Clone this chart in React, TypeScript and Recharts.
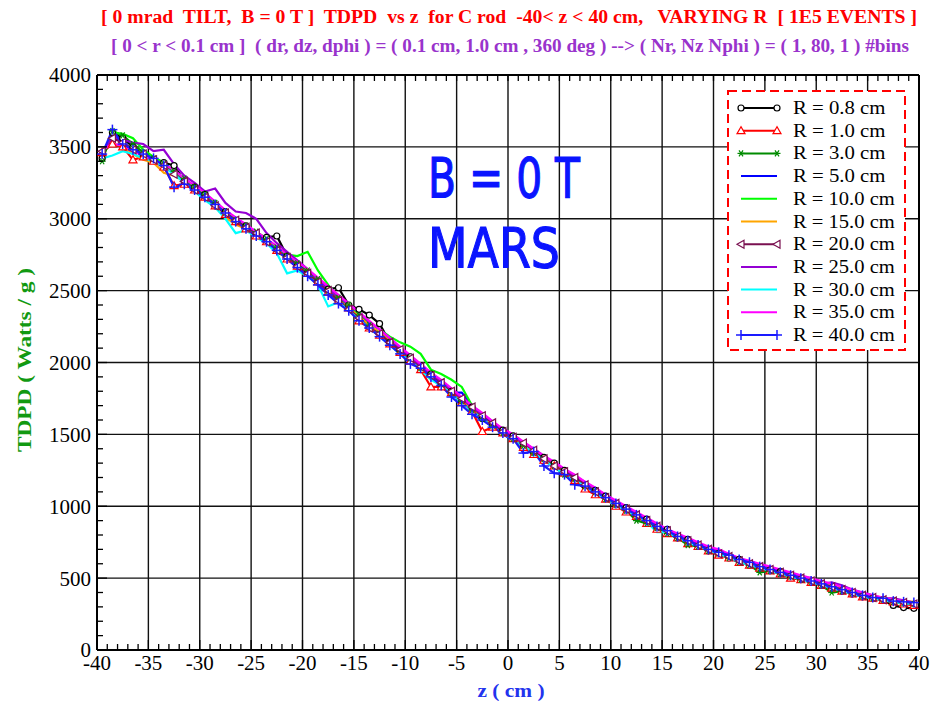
import { LineChart, Line, XAxis, YAxis, CartesianGrid } from 'recharts'

// bin centres along z (cm), 80 bins of 1 cm
const zBins = [
  -39.5, -38.5, -37.5, -36.5, -35.5, -34.5, -33.5, -32.5, -31.5, -30.5,
  -29.5, -28.5, -27.5, -26.5, -25.5, -24.5, -23.5, -22.5, -21.5, -20.5,
  -19.5, -18.5, -17.5, -16.5, -15.5, -14.5, -13.5, -12.5, -11.5, -10.5,
  -9.5, -8.5, -7.5, -6.5, -5.5, -4.5, -3.5, -2.5, -1.5, -0.5,
  0.5, 1.5, 2.5, 3.5, 4.5, 5.5, 6.5, 7.5, 8.5, 9.5,
  10.5, 11.5, 12.5, 13.5, 14.5, 15.5, 16.5, 17.5, 18.5, 19.5,
  20.5, 21.5, 22.5, 23.5, 24.5, 25.5, 26.5, 27.5, 28.5, 29.5,
  30.5, 31.5, 32.5, 33.5, 34.5, 35.5, 36.5, 37.5, 38.5, 39.5,
]

// TDPD (Watts / g) per R
const r08 = [
  3420, 3600, 3560, 3500, 3440, 3410, 3390, 3370, 3260, 3220,
  3170, 3090, 3050, 2980, 2950, 2890, 2870, 2880, 2740, 2670,
  2620, 2560, 2510, 2520, 2400, 2370, 2330, 2270, 2140, 2080,
  2040, 1960, 1920, 1840, 1800, 1730, 1690, 1610, 1560, 1530,
  1490, 1420, 1370, 1340, 1300, 1250, 1190, 1140, 1110, 1070,
  1010, 990, 930, 910, 850, 840, 780, 770, 720, 690,
  670, 640, 630, 590, 570, 555, 545, 510, 490, 470,
  450, 430, 410, 390, 370, 360, 345, 310, 295, 290,
]
const r10 = [
  3460, 3520, 3500, 3410, 3430, 3400, 3360, 3230, 3240, 3200,
  3150, 3090, 3030, 2980, 2930, 2880, 2840, 2780, 2720, 2670,
  2620, 2560, 2490, 2430, 2380, 2290, 2240, 2190, 2130, 2070,
  2010, 1950, 1830, 1830, 1790, 1720, 1660, 1520, 1550, 1510,
  1470, 1410, 1360, 1320, 1280, 1230, 1180, 1120, 1080, 1050,
  1000, 960, 930, 880, 840, 810, 780, 740, 720, 690,
  660, 640, 610, 590, 570, 550, 530, 500, 490, 470,
  450, 430, 410, 390, 370, 360, 345, 335, 320, 310,
]
const r30 = [
  3400, 3610, 3580, 3520, 3460, 3420, 3380, 3330, 3280, 3220,
  3170, 3110, 3040, 2990, 2950, 2910, 2860, 2800, 2740, 2690,
  2640, 2580, 2500, 2450, 2400, 2330, 2260, 2200, 2140, 2080,
  2030, 1960, 1910, 1850, 1790, 1730, 1670, 1610, 1560, 1510,
  1470, 1420, 1370, 1330, 1280, 1220, 1190, 1140, 1100, 1050,
  1010, 970, 900, 880, 850, 810, 780, 730, 720, 690,
  670, 640, 610, 590, 540, 550, 530, 510, 490, 475,
  450, 400, 410, 395, 375, 360, 350, 335, 325, 320,
]
const r50 = [
  3450, 3570, 3530, 3480, 3440, 3420, 3370, 3320, 3260, 3210,
  3150, 3100, 3030, 2980, 2930, 2880, 2840, 2780, 2720, 2660,
  2610, 2550, 2480, 2430, 2370, 2320, 2260, 2200, 2140, 2070,
  2010, 1950, 1900, 1830, 1790, 1790, 1700, 1620, 1560, 1500,
  1460, 1420, 1370, 1320, 1270, 1230, 1190, 1150, 1110, 1060,
  1020, 980, 940, 900, 860, 820, 790, 760, 730, 700,
  680, 650, 620, 600, 580, 560, 540, 520, 500, 480,
  460, 440, 420, 400, 380, 365, 350, 340, 330, 325,
]
const r100 = [
  3440, 3600, 3590, 3560, 3480, 3430, 3390, 3330, 3280, 3220,
  3180, 3110, 3050, 3000, 2950, 2910, 2860, 2800, 2750, 2740,
  2770, 2640, 2540, 2460, 2400, 2340, 2280, 2230, 2180, 2140,
  2110, 2060, 1950, 1920, 1880, 1830, 1700, 1630, 1580, 1530,
  1480, 1440, 1390, 1340, 1290, 1240, 1200, 1160, 1120, 1070,
  1030, 990, 950, 910, 870, 830, 790, 760, 730, 710,
  690, 650, 620, 600, 580, 560, 540, 520, 500, 480,
  460, 440, 420, 400, 380, 370, 355, 345, 335, 330,
]
const r150 = [
  3480, 3520, 3510, 3450, 3410, 3390, 3320, 3300, 3260, 3190,
  3140, 3080, 3010, 2960, 2930, 2880, 2840, 2780, 2720, 2670,
  2620, 2560, 2500, 2430, 2380, 2320, 2260, 2210, 2150, 2090,
  2030, 1970, 1910, 1850, 1800, 1740, 1680, 1630, 1570, 1520,
  1480, 1430, 1380, 1330, 1290, 1240, 1200, 1150, 1110, 1070,
  1030, 990, 950, 910, 870, 840, 800, 770, 740, 710,
  690, 660, 630, 610, 590, 570, 550, 530, 510, 490,
  470, 450, 430, 410, 390, 375, 365, 350, 340, 335,
]
const r200 = [
  3470, 3560, 3530, 3480, 3450, 3410, 3370, 3310, 3260, 3200,
  3150, 3090, 3040, 2990, 2940, 2900, 2840, 2780, 2730, 2670,
  2620, 2560, 2500, 2430, 2370, 2310, 2240, 2200, 2140, 2090,
  2030, 1970, 1910, 1860, 1800, 1750, 1690, 1630, 1580, 1520,
  1480, 1440, 1390, 1330, 1280, 1240, 1200, 1150, 1100, 1060,
  1020, 980, 940, 900, 860, 830, 790, 760, 730, 700,
  670, 650, 620, 600, 580, 560, 540, 520, 500, 480,
  460, 440, 420, 400, 380, 365, 350, 340, 330, 320,
]
const r250 = [
  3460, 3570, 3550, 3530, 3520, 3470, 3480, 3380, 3300, 3250,
  3190, 3210, 3110, 3050, 3040, 3000, 2900, 2830, 2770, 2710,
  2650, 2580, 2510, 2460, 2400, 2350, 2280, 2230, 2170, 2100,
  2040, 1980, 1920, 1870, 1810, 1750, 1690, 1640, 1590, 1530,
  1490, 1440, 1400, 1350, 1300, 1260, 1210, 1170, 1120, 1080,
  1030, 990, 950, 910, 870, 840, 800, 770, 740, 710,
  690, 660, 630, 610, 590, 570, 550, 530, 510, 500,
  460, 470, 450, 420, 400, 380, 360, 360, 345, 330,
]
const r300 = [
  3420, 3440, 3470, 3450, 3420, 3400, 3360, 3310, 3250, 3190,
  3130, 3080, 3000, 2900, 2920, 2870, 2830, 2760, 2620, 2640,
  2600, 2540, 2390, 2420, 2360, 2300, 2240, 2180, 2120, 2060,
  2010, 1950, 1880, 1840, 1780, 1720, 1660, 1610, 1550, 1510,
  1460, 1420, 1370, 1320, 1270, 1220, 1180, 1140, 1090, 1050,
  1000, 970, 930, 890, 820, 820, 780, 750, 720, 690,
  670, 640, 610, 590, 570, 550, 530, 510, 490, 470,
  450, 430, 410, 390, 370, 360, 345, 335, 325, 320,
]
const r350 = [
  3480, 3520, 3510, 3470, 3440, 3410, 3380, 3340, 3280, 3230,
  3180, 3120, 3060, 3010, 2960, 2910, 2860, 2810, 2750, 2700,
  2650, 2590, 2530, 2470, 2410, 2350, 2290, 2230, 2170, 2110,
  2050, 1990, 1930, 1880, 1820, 1760, 1700, 1650, 1590, 1540,
  1500, 1450, 1400, 1350, 1310, 1260, 1220, 1170, 1130, 1080,
  1040, 1000, 960, 920, 880, 840, 810, 780, 750, 720,
  700, 670, 640, 620, 600, 580, 560, 540, 520, 500,
  480, 460, 440, 420, 400, 380, 365, 350, 340, 330,
]
const r400 = [
  3450, 3620, 3520, 3480, 3450, 3420, 3370, 3220, 3240, 3200,
  3150, 3100, 3040, 2980, 2930, 2880, 2840, 2780, 2720, 2660,
  2600, 2540, 2470, 2410, 2360, 2290, 2240, 2180, 2120, 2060,
  1990, 1960, 1900, 1840, 1760, 1700, 1640, 1600, 1550, 1510,
  1470, 1370, 1380, 1280, 1230, 1220, 1150, 1140, 1100, 1060,
  1020, 980, 940, 900, 860, 830, 790, 760, 730, 700,
  680, 660, 630, 610, 580, 560, 540, 520, 500, 480,
  460, 440, 420, 400, 380, 365, 360, 340, 335, 330,
]

// every 1 cm / every 100 W/g; labels only on multiples of 5 / 500
const xTicks = Array.from({ length: 81 }, (_, i) => i - 40)
const yTicks = Array.from({ length: 41 }, (_, i) => i * 100)
const xGrid = [-40, -35, -30, -25, -20, -15, -10, -5, 0, 5, 10, 15, 20, 25, 30, 35, 40]
const yGrid = [0, 500, 1000, 1500, 2000, 2500, 3000, 3500, 4000]

type Marker = 'none' | 'circle' | 'triangle' | 'star' | 'left' | 'plus'

const series: { key: string; label: string; color: string; marker: Marker; values: number[] }[] = [
  { key: 'r08', label: 'R = 0.8 cm', color: '#000000', marker: 'circle', values: r08 },
  { key: 'r10', label: 'R = 1.0 cm', color: '#ff0000', marker: 'triangle', values: r10 },
  { key: 'r30', label: 'R = 3.0 cm', color: '#008b00', marker: 'star', values: r30 },
  { key: 'r50', label: 'R = 5.0 cm', color: '#0000ff', marker: 'none', values: r50 },
  { key: 'r100', label: 'R = 10.0 cm', color: '#00ff00', marker: 'none', values: r100 },
  { key: 'r150', label: 'R = 15.0 cm', color: '#ffa500', marker: 'none', values: r150 },
  { key: 'r200', label: 'R = 20.0 cm', color: '#7a1050', marker: 'left', values: r200 },
  { key: 'r250', label: 'R = 25.0 cm', color: '#9400d3', marker: 'none', values: r250 },
  { key: 'r300', label: 'R = 30.0 cm', color: '#00ffff', marker: 'none', values: r300 },
  { key: 'r350', label: 'R = 35.0 cm', color: '#ff00ff', marker: 'none', values: r350 },
  { key: 'r400', label: 'R = 40.0 cm', color: '#1a1aff', marker: 'plus', values: r400 },
]

const data = zBins.map((z, i) => {
  const row: Record<string, number> = { z }
  series.forEach(s => { row[s.key] = s.values[i] })
  return row
})

function MarkerShape({ kind, cx, cy, color }: { kind: Marker; cx: number; cy: number; color: string }) {
  if (kind === 'circle') {
    return <circle cx={cx} cy={cy} r={3} fill="#fff" stroke={color} strokeWidth={1.2} />
  }
  if (kind === 'triangle') {
    return (
      <polygon
        points={`${cx},${cy - 4} ${cx - 4},${cy + 3} ${cx + 4},${cy + 3}`}
        fill="#fff" stroke={color} strokeWidth={1.2}
      />
    )
  }
  if (kind === 'left') {
    return (
      <polygon
        points={`${cx - 4},${cy} ${cx + 3},${cy - 4} ${cx + 3},${cy + 4}`}
        fill="#fff" stroke={color} strokeWidth={1.2}
      />
    )
  }
  if (kind === 'star') {
    return (
      <g stroke={color} strokeWidth={1.2}>
        <line x1={cx - 3.5} y1={cy} x2={cx + 3.5} y2={cy} />
        <line x1={cx - 2} y1={cy - 3} x2={cx + 2} y2={cy + 3} />
        <line x1={cx - 2} y1={cy + 3} x2={cx + 2} y2={cy - 3} />
      </g>
    )
  }
  if (kind === 'plus') {
    return (
      <g stroke={color} strokeWidth={1.5}>
        <line x1={cx - 5} y1={cy} x2={cx + 5} y2={cy} />
        <line x1={cx} y1={cy - 5} x2={cx} y2={cy + 5} />
      </g>
    )
  }
  return null
}

const serif = '"Liberation Serif", "Times New Roman", serif'
const tickStroke = { stroke: '#000', strokeWidth: 1.3 }

// ticks point into the plot; only the bottom and left axes carry numbers
function BottomTick({ x, y, payload }: any) {
  const major = payload.value % 5 === 0
  return (
    <g>
      <line x1={x} y1={y} x2={x} y2={y - (major ? 10 : 6)} {...tickStroke} />
      {major && (
        <text x={x} y={y + 5} dy="0.71em" textAnchor="middle" fontFamily={serif} fontSize={21} fill="#000">
          {payload.value}
        </text>
      )}
    </g>
  )
}

function LeftTick({ x, y, payload }: any) {
  const major = payload.value % 500 === 0
  return (
    <g>
      <line x1={x} y1={y} x2={x + (major ? 10 : 6)} y2={y} {...tickStroke} />
      {major && (
        <text x={x - 6} y={y} dy="0.355em" textAnchor="end" fontFamily={serif} fontSize={21} fill="#000">
          {payload.value}
        </text>
      )}
    </g>
  )
}

function TopTick({ x, y }: any) {
  return <line x1={x} y1={y} x2={x} y2={y + 6} {...tickStroke} />
}

function RightTick({ x, y }: any) {
  return <line x1={x} y1={y} x2={x - 6} y2={y} {...tickStroke} />
}

function Overlay() {
  const legendTop = 108
  const legendStep = 22.7
  return (
    <svg width={932} height={703} style={{ position: 'absolute', left: 0, top: 0, pointerEvents: 'none' }}>
      <text x={509} y={23} textAnchor="middle" fontFamily={serif} fontWeight="bold" fontSize={18}
        fill="#ff0000" textLength={816} lengthAdjust="spacingAndGlyphs" style={{ whiteSpace: 'pre' }}>
        {'[ 0 mrad  TILT,  B = 0 T ]  TDPD  vs z  for C rod  -40< z < 40 cm,   VARYING R  [ 1E5 EVENTS ]'}
      </text>
      <text x={510} y={52} textAnchor="middle" fontFamily={serif} fontWeight="bold" fontSize={18}
        fill="#9933cc" textLength={798} lengthAdjust="spacingAndGlyphs" style={{ whiteSpace: 'pre' }}>
        {'[ 0 < r < 0.1 cm ]  ( dr, dz, dphi ) = ( 0.1 cm, 1.0 cm , 360 deg ) --> ( Nr, Nz Nphi ) = ( 1, 80, 1 ) #bins'}
      </text>
      <text x={0} y={0} transform="translate(31,360) rotate(-90)" textAnchor="middle" fontFamily={serif}
        fontWeight="bold" fontSize={18} fill="#119911" textLength={184} lengthAdjust="spacingAndGlyphs">
        TDPD ( Watts / g )
      </text>
      <text x={511} y={697} textAnchor="middle" fontFamily={serif} fontWeight="bold" fontSize={19}
        fill="#2233ee" textLength={67} lengthAdjust="spacingAndGlyphs">
        z ( cm )
      </text>
      <text x={428} y={197} fontFamily='"DejaVu Sans", sans-serif' fontSize={55} fill="#0a14ff"
        stroke="#0a14ff" strokeWidth={1.2} textLength={152} lengthAdjust="spacingAndGlyphs">
        B = 0 T
      </text>
      <text x={428} y={267} fontFamily='"DejaVu Sans", sans-serif' fontSize={55} fill="#0a14ff"
        stroke="#0a14ff" strokeWidth={1.2} textLength={132} lengthAdjust="spacingAndGlyphs">
        MARS
      </text>
      <rect x={728} y={91} width={177} height={259} fill="#fff" stroke="#ff0000" strokeWidth={2}
        strokeDasharray="9 5" />
      {series.map((s, i) => {
        const y = legendTop + i * legendStep
        return (
          <g key={s.key}>
            <line x1={741} y1={y} x2={777} y2={y} stroke={s.color} strokeWidth={2} />
            {s.marker !== 'none' && (
              <>
                <MarkerShape kind={s.marker} cx={741} cy={y} color={s.color} />
                <MarkerShape kind={s.marker} cx={777} cy={y} color={s.color} />
              </>
            )}
            <text x={793} y={y + 6} fontFamily={serif} fontSize={18} fill="#000"
              textLength={s.label.length * 9.25} lengthAdjust="spacingAndGlyphs">{s.label}</text>
          </g>
        )
      })}
    </svg>
  )
}

export default function App() {
  const frame = { stroke: '#000', strokeWidth: 2 }
  return (
    <div style={{ position: 'absolute', left: 0, top: 0, width: 932, height: 703, background: '#fff' }}>
      <LineChart width={932} height={703} data={data} margin={{ top: 74, right: 12, left: 0, bottom: 23 }}>
        <XAxis xAxisId="x" dataKey="z" type="number" domain={[-40, 40]} ticks={xTicks} interval={0}
          height={30} tickSize={0} tickMargin={0} tickLine={false} tick={BottomTick} axisLine={frame} />
        <XAxis xAxisId="xt" orientation="top" dataKey="z" type="number" domain={[-40, 40]} ticks={xTicks}
          interval={0} height={1} tickSize={0} tickMargin={0} tickLine={false} tick={TopTick} axisLine={frame} />
        <YAxis yAxisId="y" type="number" domain={[0, 4000]} ticks={yTicks} interval={0} width={97}
          tickSize={0} tickMargin={0} tickLine={false} tick={LeftTick} axisLine={frame} />
        <YAxis yAxisId="yr" orientation="right" type="number" domain={[0, 4000]} ticks={yTicks}
          interval={0} width={1} tickSize={0} tickMargin={0} tickLine={false} tick={RightTick} axisLine={frame} />
        <CartesianGrid xAxisId="x" yAxisId="y" stroke="#111" strokeWidth={1.4}
          verticalValues={xGrid} horizontalValues={yGrid} />
        {series.map(s => (
          <Line
            key={s.key}
            xAxisId="x"
            yAxisId="y"
            type="linear"
            dataKey={s.key}
            stroke={s.color}
            strokeWidth={2.2}
            isAnimationActive={false}
            dot={s.marker === 'none' ? false : (p: any) => (
              <MarkerShape key={`${s.key}-${p.index}`} kind={s.marker} cx={p.cx} cy={p.cy} color={s.color} />
            )}
          />
        ))}
      </LineChart>
      <Overlay />
    </div>
  )
}
